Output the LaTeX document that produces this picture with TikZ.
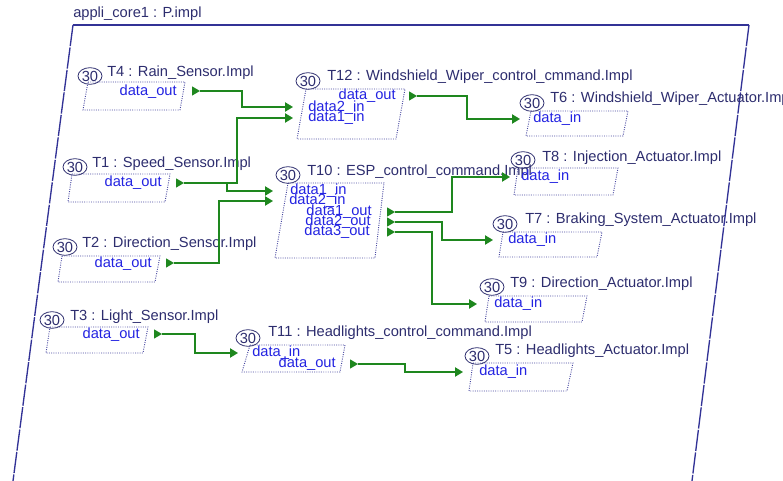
\documentclass[tikz,border=0pt]{standalone}
\usepackage{fontspec}
\setmainfont{Liberation Sans}
\usetikzlibrary{shapes.geometric,arrows.meta}
\definecolor{navy}{RGB}{45,45,110}
\definecolor{frame}{RGB}{50,50,150}
\definecolor{portblue}{RGB}{35,35,225}
\definecolor{boxblue}{RGB}{70,70,160}
\definecolor{wire}{RGB}{30,135,30}
\tikzset{
  txt/.style={font=\fontsize{11}{11}\selectfont, inner sep=0pt},
  lbl/.style={txt, text=navy, anchor=base west},
  pin/.style={txt, text=portblue, anchor=base west},
  pout/.style={txt, text=portblue, anchor=base east},
  cnt/.style={txt, ellipse, draw=navy, line width=0.6pt, text=navy, minimum width=18pt, minimum height=12.5pt},
  compbox/.style={draw=boxblue, densely dotted, line width=0.7pt},
  tri/.style={inner sep=0pt, minimum width=6pt, minimum height=7pt,
    path picture={\fill[wire] (path picture bounding box.north west) -- (path picture bounding box.east) -- (path picture bounding box.south west) -- cycle;}},
  conn/.style={draw=wire, line width=1pt, -{Triangle[length=6pt,width=7pt]}},
}
\begin{document}
\begin{tikzpicture}[x=0.75pt,y=-0.75pt]
\useasboundingbox (0,0) rectangle (783,481);
% outer frame
\node[txt, text=navy, anchor=base west] (app) at (73,18) {appli\_core1 : P.impl};
\draw[frame, line width=1pt] (73,25) -- (749,25);
\draw[frame, line width=1pt, dash pattern=on 16pt off 1pt] (73,25) -- (13,481);
\draw[frame, line width=1pt, dash pattern=on 16pt off 1pt] (749,25) -- (692,481);

% T4
\draw[compbox] (88,82) -- (185,82) -- (180,110) -- (83,110) -- cycle;
\node[cnt] (c4) at (90,76) {30};
\node[lbl] (l4) at (107,77) {T4 : Rain\_Sensor.Impl};
\node[pout] (p4) at (177,96) {data\_out};
\node[tri] (t4o) at (196,91) {};

% T1
\draw[compbox] (72,174) -- (170,174) -- (165,202) -- (68,202) -- cycle;
\node[cnt] (c1) at (75,167) {30};
\node[lbl] (l1) at (92,168) {T1 : Speed\_Sensor.Impl};
\node[pout] (p1) at (162,187) {data\_out};
\node[tri] (t1o) at (180,183) {};

% T2
\draw[compbox] (62,256) -- (160,256) -- (155,282) -- (58,282) -- cycle;
\node[cnt] (c2) at (65,247) {30};
\node[lbl] (l2) at (82,248) {T2 : Direction\_Sensor.Impl};
\node[pout] (p2) at (152,268) {data\_out};
\node[tri] (t2o) at (170,263) {};

% T3
\draw[compbox] (50,327) -- (148,327) -- (143,353) -- (46,353) -- cycle;
\node[cnt] (c3) at (52,320) {30};
\node[lbl] (l3) at (70,321) {T3 : Light\_Sensor.Impl};
\node[pout] (p3) at (140,339) {data\_out};
\node[tri] (t3o) at (158,334) {};

% T12
\draw[compbox] (306,89) -- (405,89) -- (396,139) -- (297,139) -- cycle;
\node[cnt] (c12) at (308,81) {30};
\node[lbl] (l12) at (327,81) {T12 : Windshield\_Wiper\_control\_cmmand.Impl};
\node[pout] (p12o) at (396,100) {data\_out};
\node[pin] (p12a) at (308,112) {data2\_in};
\node[pin] (p12b) at (308,122) {data1\_in};
\node[tri] (t12o) at (413,96) {};
\coordinate (t12a) at (293,107);
\coordinate (t12b) at (293,118);

% T10
\draw[compbox] (288,183) -- (384,183) -- (375,258) -- (275,258) -- cycle;
\node[cnt] (c10) at (288,175) {30};
\node[lbl] (l10) at (307,176) {T10 : ESP\_control\_command.Impl};
\node[pin] (p10a) at (290,195) {data1\_in};
\node[pin] (p10b) at (289,205) {data2\_in};
\node[pout] (p10o1) at (372,216) {data1\_out};
\node[pout] (p10o2) at (371,226) {data2\_out};
\node[pout] (p10o3) at (370,236) {data3\_out};
\node[tri] (t10o1) at (391,212) {};
\node[tri] (t10o2) at (391,222) {};
\node[tri] (t10o3) at (391,232) {};
\coordinate (t10a) at (273,191);
\coordinate (t10b) at (273,201);

% T11
\draw[compbox] (250,345) -- (345,345) -- (340,372) -- (242,372) -- cycle;
\node[cnt] (c11) at (248,338) {30};
\node[lbl] (l11) at (268,337) {T11 : Headlights\_control\_command.Impl};
\node[pin] (p11a) at (252,357) {data\_in};
\node[pout] (p11o) at (336,368) {data\_out};
\node[tri] (t11o) at (354,364) {};
\coordinate (t11a) at (238,353);

% T6
\draw[compbox] (531,111) -- (628,111) -- (623,136) -- (526,136) -- cycle;
\node[cnt] (c6) at (532,103) {30};
\node[lbl] (l6) at (550,103) {T6 : Windshield\_Wiper\_Actuator.Impl};
\node[pin] (p6) at (533,123) {data\_in};
\coordinate (t6a) at (520,119);

% T8
\draw[compbox] (518,168) -- (618,168) -- (613,195) -- (514,195) -- cycle;
\node[cnt] (c8) at (523,160) {30};
\node[lbl] (l8) at (542,162) {T8 : Injection\_Actuator.Impl};
\node[pin] (p8) at (521,181) {data\_in};
\coordinate (t8a) at (510,177);

% T7
\draw[compbox] (503,232) -- (602,232) -- (597,257) -- (499,257) -- cycle;
\node[cnt] (c7) at (505,224) {30};
\node[lbl] (l7) at (525,224) {T7 : Braking\_System\_Actuator.Impl};
\node[pin] (p7) at (508,244) {data\_in};
\coordinate (t7a) at (493,240);

% T9
\draw[compbox] (489,296) -- (587,296) -- (582,322) -- (485,322) -- cycle;
\node[cnt] (c9) at (492,287) {30};
\node[lbl] (l9) at (510,288) {T9 : Direction\_Actuator.Impl};
\node[pin] (p9) at (494,308) {data\_in};
\coordinate (t9a) at (477,304);

% T5
\draw[compbox] (473,363) -- (573,363) -- (567,391) -- (469,391) -- cycle;
\node[cnt] (c5) at (477,356) {30};
\node[lbl] (l5) at (495,355) {T5 : Headlights\_Actuator.Impl};
\node[pin] (p5) at (479,376) {data\_in};
\coordinate (t5a) at (463,372);

% connectors
\draw[conn] (t4o.east) -| (242,107) -- (t12a);
\draw[conn] (t1o.east) -| (237,118) -- (t12b);
\draw[conn] (t1o.east) -| (227,191) -- (t10a);
\draw[conn] (t2o.east) -| (219,201) -- (t10b);
\draw[conn] (t12o.east) -| (467,119) -- (t6a);
\draw[conn] (t10o1.east) -| (452,177) -- (t8a);
\draw[conn] (t10o2.east) -| (442,240) -- (t7a);
\draw[conn] (t10o3.east) -| (432,304) -- (t9a);
\draw[conn] (t3o.east) -| (195,353) -- (t11a);
\draw[conn] (t11o.east) -| (405,372) -- (t5a);
\end{tikzpicture}
\end{document}
